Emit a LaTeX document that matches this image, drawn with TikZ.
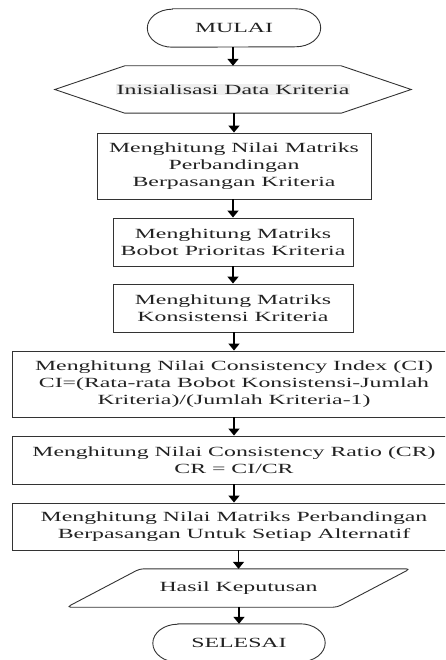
\documentclass[tikz,border=0pt]{standalone}
\usepackage{fontspec}
\setmainfont{Liberation Serif}[FakeStretch=1.7]
\usetikzlibrary{arrows.meta,calc}
\definecolor{txt}{HTML}{222222}
\definecolor{ln}{HTML}{333333}
\definecolor{hl}{HTML}{EFEFEF}
\newcommand{\termshape}[1]{%
  \draw[shp] ([xshift=25pt]#1.north west) -- ([xshift=-25pt]#1.north east)
    arc[start angle=90,end angle=-90,x radius=25pt,y radius=19pt]
    -- ([xshift=25pt]#1.south west)
    arc[start angle=270,end angle=90,x radius=25pt,y radius=19pt] -- cycle;}
\begin{document}
\begin{tikzpicture}[x=1pt,y=1pt,
  every node/.style={font=\fontsize{14}{16.8}\selectfont, text=txt, align=center, inner sep=0pt},
  shp/.style={draw=ln, line width=0.9pt},
  boxnode/.style={draw=ln, line width=0.9pt, rectangle},
  termnode/.style={minimum width=173pt, minimum height=38pt},
  arr/.style={draw=black, line width=1.6pt, -{Triangle[length=7pt,width=11pt]}}]
\useasboundingbox (0,0) rectangle (445,-660);
\clip (0,0) rectangle (445,-660);
\fill[white] (0,0) rectangle (445,-660);
% nodes
\node[termnode] (start) at (234,-28) {MULAI};
\termshape{start}
\node[minimum width=356pt, minimum height=47pt] (init) at (233,-89.5)
  {\setlength{\fboxsep}{1pt}\colorbox{hl}{Inisialisasi Data Kriteria}};
\draw[shp] (init.west) -- ([xshift=70pt]init.north west) -- ([xshift=-70pt]init.north east)
  -- (init.east) -- ([xshift=-70pt]init.south east) -- ([xshift=70pt]init.south west) -- cycle;
\node[boxnode, minimum width=274pt, minimum height=66pt] (b1) at (234,-166)
  {Menghitung Nilai Matriks\\Perbandingan\\Berpasangan Kriteria};
\node[boxnode, minimum width=240pt, minimum height=48pt] (b2) at (233,-242)
  {Menghitung Matriks\\Bobot Prioritas Kriteria};
\node[boxnode, minimum width=240pt, minimum height=48pt] (b3) at (233,-308)
  {Menghitung Matriks\\Konsistensi Kriteria};
\node[boxnode, minimum width=444pt, minimum height=66pt] (b4) at (234,-384)
  {Menghitung Nilai Consistency Index (CI)\\CI=(Rata-rata Bobot Konsistensi-Jumlah\\Kriteria)/(Jumlah Kriteria-1)};
\node[boxnode, minimum width=444pt, minimum height=48pt] (b5) at (234,-460)
  {Menghitung Nilai Consistency Ratio (CR)\\CR = CI/CR};
\node[boxnode, minimum width=444pt, minimum height=47pt] (b6) at (234,-526.5)
  {Menghitung Nilai Matriks Perbandingan\\Berpasangan Untuk Setiap Alternatif};
\node[minimum width=270pt, minimum height=38pt] (out) at (238.5,-588) {Hasil Keputusan};
\draw[shp, rounded corners=4pt] ([xshift=36.5pt]out.north west) -- ([xshift=36.5pt]out.north east)
  -- ([xshift=-36.5pt]out.south east) -- ([xshift=-36.5pt]out.south west) -- cycle;
\node[termnode, minimum width=172pt] (end) at (239,-643) {SELESAI};
\termshape{end}
% connectors
\draw[arr] (start.south -| init.north) -- (init.north);
\draw[arr] (init.south -| b1.north) -- (b1.north);
\draw[arr] (b1.south -| b2.north) -- (b2.north);
\draw[arr] (b2.south -| b3.north) -- (b3.north);
\draw[arr] (b3.south -| b4.north) -- (b4.north);
\draw[arr] (b4.south -| b5.north) -- (b5.north);
\draw[arr] (b5.south -| b6.north) -- (b6.north);
\draw[arr] (b6.south -| out.north) -- (out.north);
\draw[arr] (out.south -| end.north) -- (end.north);
\end{tikzpicture}
\end{document}
